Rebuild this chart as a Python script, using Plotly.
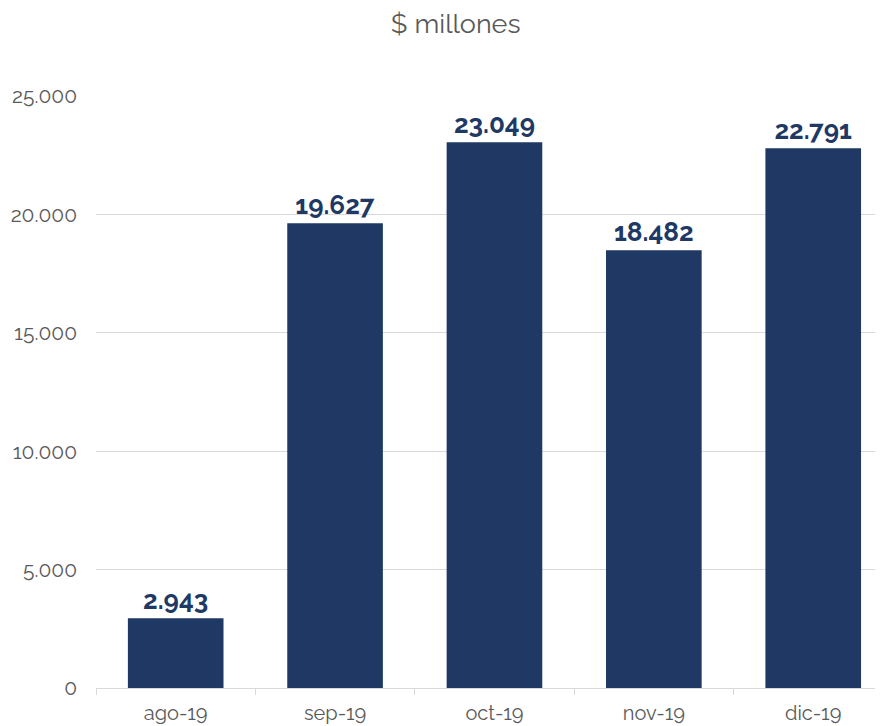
import plotly.graph_objects as go

categories = ["ago-19", "sep-19", "oct-19", "nov-19", "dic-19"]
values = [2943, 19627, 23049, 18482, 22791]
title_text = "$ millones"

bar_color = "#203864"
grid_color = "#d9d9d9"
text_gray = "#595959"
font_family = "Raleway, Lato, 'Open Sans', sans-serif"

fig = go.Figure(
    go.Bar(
        x=categories,
        y=values,
        marker=dict(color=bar_color, line=dict(width=0)),
        width=0.6,
        texttemplate="%{y:,d}",
        textposition="outside",
        textfont=dict(family=font_family, size=26, color=bar_color, weight="bold"),
        cliponaxis=False,
    )
)

fig.update_layout(
    width=883,
    height=726,
    margin=dict(l=88, r=0, t=88, b=46),
    paper_bgcolor="white",
    plot_bgcolor="white",
    separators=",.",
    showlegend=False,
    title=dict(
        text=title_text,
        x=0.507,
        xanchor="center",
        y=0.978,
        yanchor="middle",
        font=dict(family=font_family, size=27, color=text_gray),
    ),
    font=dict(family=font_family, color=text_gray),
)

fig.update_yaxes(
    range=[0, 25000],
    dtick=5000,
    tickformat=",d",
    showgrid=True,
    gridcolor=grid_color,
    gridwidth=1,
    zeroline=False,
    showline=False,
    ticks="",
    ticklabelstandoff=18,
    tickfont=dict(family=font_family, size=21, color=text_gray),
)

fig.update_xaxes(
    range=[-0.5, 4.488],
    showline=True,
    linecolor=grid_color,
    linewidth=1,
    ticks="outside",
    tickson="boundaries",
    ticklen=6,
    tickcolor=grid_color,
    ticklabelstandoff=7,
    tickfont=dict(family=font_family, size=20, color=text_gray),
)

fig.write_html("out.html")
